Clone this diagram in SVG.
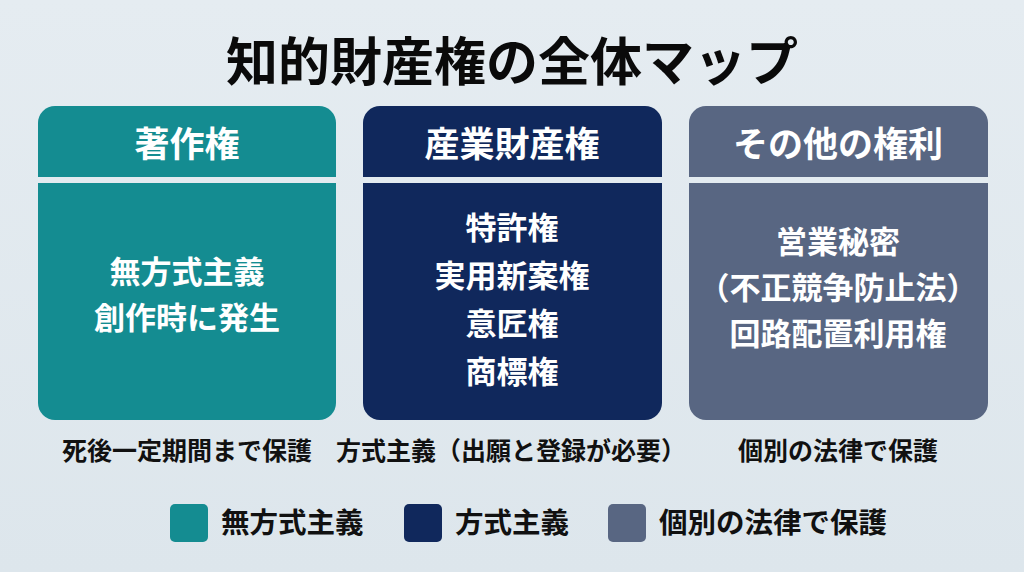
<svg xmlns="http://www.w3.org/2000/svg" width="1024" height="572" viewBox="0 0 1024 572">
<defs>
<linearGradient id="bg" x1="0" y1="0" x2="0" y2="1">
<stop offset="0" stop-color="#E5ECF1"/>
<stop offset="1" stop-color="#DDE6EC"/>
</linearGradient>
</defs>
<style>
text{font-family:"Noto Sans CJK JP","Noto Sans CJK SC",sans-serif;font-weight:bold;text-anchor:middle}
.title{font-size:52px;fill:#0A0A0A}
.hd{font-size:35px;fill:#FFFFFF}
.bd{font-size:31px;fill:#FFFFFF}
.cap{font-size:25px;fill:#111111}
.lg{font-size:28.5px;fill:#111111;text-anchor:start}
.sep{fill:#E3EBF0}
.teal{fill:#148C91}
.navy{fill:#10285C}
.slate{fill:#586682}
</style>
<rect width="1024" height="572" fill="url(#bg)"/>
<text class="title" x="512" y="81">知的財産権の全体マップ</text>

<g id="card-copyright">
<rect class="teal" x="38" y="106" width="298" height="314" rx="17"/>
<rect class="sep" x="38" y="177" width="298" height="6"/>
<text class="hd" x="187" y="157">著作権</text>
<text class="bd" x="187" y="283">無方式主義</text>
<text class="bd" x="187" y="329">創作時に発生</text>
</g>

<g id="card-industrial">
<rect class="navy" x="363" y="106" width="299" height="314" rx="17"/>
<rect class="sep" x="363" y="177" width="299" height="6"/>
<text class="hd" x="512" y="157">産業財産権</text>
<text class="bd" x="512" y="239">特許権</text>
<text class="bd" x="512" y="287">実用新案権</text>
<text class="bd" x="512" y="335">意匠権</text>
<text class="bd" x="512" y="383">商標権</text>
</g>

<g id="card-other">
<rect class="slate" x="689" y="106" width="299" height="314" rx="17"/>
<rect class="sep" x="689" y="177" width="299" height="6"/>
<text class="hd" x="838" y="157">その他の権利</text>
<text class="bd" x="838" y="253">営業秘密</text>
<text class="bd" x="838" y="299">（不正競争防止法）</text>
<text class="bd" x="838" y="345">回路配置利用権</text>
</g>

<g id="captions">
<text class="cap" x="187" y="460">死後一定期間まで保護</text>
<text class="cap" x="511" y="460">方式主義（出願と登録が必要）</text>
<text class="cap" x="838" y="460">個別の法律で保護</text>
</g>

<g id="legend">
<rect class="teal" x="170" y="504" width="38" height="38" rx="5"/>
<text class="lg" x="221" y="533">無方式主義</text>
<rect class="navy" x="404" y="504" width="38" height="38" rx="5"/>
<text class="lg" x="455" y="533">方式主義</text>
<rect class="slate" x="608" y="504" width="38" height="38" rx="5"/>
<text class="lg" x="659" y="533">個別の法律で保護</text>
</g>
</svg>
